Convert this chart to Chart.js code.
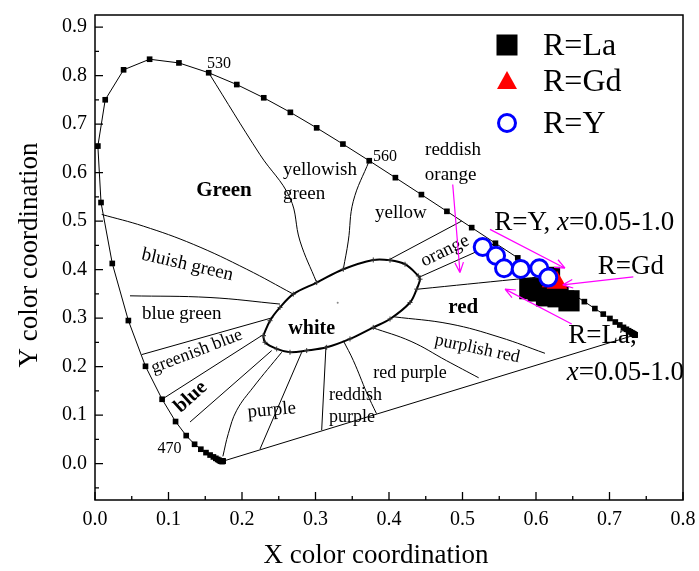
<!DOCTYPE html>
<html>
<head>
<meta charset="utf-8">
<script src="https://cdn.jsdelivr.net/npm/chart.js@4.4.1/dist/chart.umd.min.js"></script>
<style>
  body { margin: 0; background: #fff; }
  #cie { display: block; }
</style>
</head>
<body>
<canvas id="cie" width="699" height="571"></canvas>
<script>
// tick labels
const xTicks = [0.0, 0.1, 0.2, 0.3, 0.4, 0.5, 0.6, 0.7, 0.8];
const yTicks = [0.0, 0.1, 0.2, 0.3, 0.4, 0.5, 0.6, 0.7, 0.8, 0.9];

// CIE 1931 spectral locus, 380 - 700 nm in 5 nm steps
const locusNm = [380,385,390,395,400,405,410,415,420,425,430,435,440,445,450,455,460,465,470,475,
  480,485,490,495,500,505,510,515,520,525,530,535,540,545,550,555,560,565,570,575,
  580,585,590,595,600,605,610,615,620,625,630,635,640,645,650,655,660,665,670,675,
  680,685,690,695,700];
const locusX = [0.1741,0.1740,0.1738,0.1736,0.1733,0.1730,0.1726,0.1721,0.1714,0.1703,0.1689,0.1669,0.1644,0.1611,0.1566,0.1510,0.1440,0.1355,0.1241,0.1096,
  0.0913,0.0687,0.0454,0.0235,0.0082,0.0039,0.0139,0.0389,0.0743,0.1142,0.1547,0.1929,0.2296,0.2658,0.3016,0.3373,0.3731,0.4087,0.4441,0.4788,
  0.5125,0.5448,0.5752,0.6029,0.6270,0.6482,0.6658,0.6801,0.6915,0.7006,0.7079,0.7140,0.7190,0.7230,0.7260,0.7283,0.7300,0.7311,0.7320,0.7327,
  0.7334,0.7340,0.7344,0.7346,0.7347];
const locusY = [0.0050,0.0050,0.0049,0.0049,0.0048,0.0048,0.0048,0.0048,0.0051,0.0058,0.0069,0.0086,0.0109,0.0138,0.0177,0.0227,0.0297,0.0399,0.0578,0.0868,
  0.1327,0.2007,0.2950,0.4127,0.5384,0.6548,0.7502,0.8120,0.8338,0.8262,0.8059,0.7816,0.7543,0.7243,0.6923,0.6589,0.6245,0.5896,0.5547,0.5202,
  0.4866,0.4544,0.4242,0.3965,0.3725,0.3514,0.3340,0.3197,0.3083,0.2993,0.2920,0.2859,0.2809,0.2770,0.2740,0.2717,0.2700,0.2689,0.2680,0.2673,
  0.2666,0.2660,0.2656,0.2654,0.2653];

// measured colour coordinates, x = 0.05 - 1.0
const laX = [0.5916, 0.6030, 0.6143, 0.6184, 0.6300, 0.6449];
const laY = [0.3608, 0.3560, 0.3460, 0.3840, 0.3440, 0.3357];
const gdX = [0.6220, 0.6286];
const gdY = [0.3760, 0.3730];
const yX = [0.5275, 0.5456, 0.5565, 0.5792, 0.6045, 0.6167];
const yY = [0.4466, 0.4287, 0.4029, 0.4014, 0.4029, 0.3836];

// white region outline
const whiteX = [0.2290,0.2381,0.2517,0.2698,0.3016,0.3378,0.3786,0.4014,0.4218,0.4399,0.4422,0.4377,0.4286,0.4014,0.3786,0.3469,0.3152,0.2880,0.2653,0.2472,0.2313,0.2290];
const whiteY = [0.2639,0.2947,0.3220,0.3495,0.3733,0.4008,0.4199,0.4193,0.4111,0.3871,0.3803,0.3598,0.3322,0.2982,0.2809,0.2571,0.2398,0.2331,0.2296,0.2365,0.2501,0.2639];
const equalEnergy = [0.3302, 0.3316];

// colour region boundaries
const regionBorders = [
  [[0.1547,0.8059],[0.2245,0.6370],[0.2653,0.5478],[0.2789,0.4589],[0.3016,0.3733]],
  [[0.3731,0.6245],[0.3514,0.5410],[0.3446,0.4589],[0.3378,0.4008]],
  [[0.4989,0.5002],[0.4014,0.4214]],
  [[0.5448,0.4544],[0.4399,0.3836]],
  [[0.4399,0.3598],[0.5737,0.3803],[0.6130,0.3860]],
  [[0.4058,0.3029],[0.4830,0.2880],[0.5510,0.2604],[0.6122,0.2275]],
  [[0.3765,0.2809],[0.4300,0.2520],[0.4780,0.2125],[0.5220,0.1770]],
  [[0.3378,0.2536],[0.3515,0.2125],[0.3700,0.1450],[0.3830,0.1030]],
  [[0.3143,0.2433],[0.3084,0.0690]],
  [[0.2812,0.2296],[0.2245,0.0300]],
  [[0.2540,0.2296],[0.2154,0.1577],[0.1928,0.1099],[0.1814,0.0620],[0.1740,0.0150]],
  [[0.2404,0.2331],[0.1293,0.0858]],
  [[0.0913,0.1327],[0.2268,0.2639]],
  [[0.0635,0.2248],[0.2426,0.3014]],
  [[0.0476,0.3460],[0.1565,0.3425],[0.2517,0.3290]],
  [[0.0091,0.5138],[0.0657,0.4897],[0.1337,0.4522],[0.2064,0.4008],[0.2698,0.3495]]
];

// region names: text, x, y, rotation, size, bold
const regionLabels = [
  ['530', 0.1687, 0.8148, 0, 16, false],
  ['560', 0.3946, 0.6246, 0, 16, false],
  ['470', 0.1015, 0.0222, 0, 16, false],
  ['Green', 0.1755, 0.5528, 0, 21, true],
  ['yellowish', 0.3061, 0.5945, 0, 19, false],
  ['green', 0.2844, 0.5452, 0, 19, false],
  ['yellow', 0.4163, 0.5055, 0, 19, false],
  ['reddish', 0.4871, 0.6370, 0, 19, false],
  ['orange', 0.4839, 0.5856, 0, 19, false],
  ['orange', 0.4762, 0.4384, -26, 19, false],
  ['bluish green', 0.1256, 0.4097, 13, 19, false],
  ['blue green', 0.1180, 0.2982, 0, 19, false],
  ['greenish blue', 0.1384, 0.2310, -21, 18, false],
  ['blue', 0.1302, 0.1372, -42, 20, true],
  ['purple', 0.2404, 0.1099, -5, 19, false],
  ['white', 0.2948, 0.2674, 0, 20, true],
  ['red', 0.5011, 0.3097, 0, 21, true],
  ['purplish red', 0.5201, 0.2366, 12, 18, false],
  ['red purple', 0.4286, 0.1770, 0, 18, false],
  ['reddish', 0.3544, 0.1318, 0, 18, false],
  ['purple', 0.3497, 0.0858, 0, 18, false]
];

// callouts: pieces (italic flag), left x, baseline y
const callouts = [
  [[['R=Y, ', false], ['x', true], ['=0.05-1.0', false]], 0.5433, 0.4809],
  [[['R=Gd', false]], 0.6839, 0.3906],
  [[['R=La,', false]], 0.6440, 0.2489],
  [[['x', true], ['=0.05-1.0', false]], 0.6418, 0.1715]
];
const arrows = [
  [0.4867, 0.5754, 0.4966, 0.3938],
  [0.5374, 0.4830, 0.6395, 0.4029],
  [0.7324, 0.3850, 0.6363, 0.3686],
  [0.6486, 0.2879, 0.5578, 0.3598]
];

const SERIF = '"Liberation Serif", "Times New Roman", serif';
Chart.defaults.font.family = SERIF;

const pts = (xs, ys) => xs.map((v, i) => ({ x: v, y: ys[i] }));
const pairs = arr => arr.map(p => ({ x: p[0], y: p[1] }));
const first = locusNm.indexOf(380), last = locusNm.indexOf(700);

const datasets = [
  { label: 'R=Y', data: pts(yX, yY), pointStyle: 'circle', pointRadius: 8.5, pointBorderWidth: 3,
    pointBorderColor: '#0000ff', pointBackgroundColor: '#ffffff', showLine: false },
  { label: 'R=Gd', data: pts(gdX, gdY), pointStyle: 'triangle', pointRadius: 12, pointBorderWidth: 0,
    pointBackgroundColor: '#ff0000', showLine: false },
  { label: 'R=La', data: pts(laX, laY), pointStyle: 'rect', pointRadius: 15, pointBorderWidth: 0,
    pointBackgroundColor: '#000000', showLine: false },
  { label: 'locus', data: pts(locusX, locusY), showLine: true, borderColor: '#000', borderWidth: 1,
    pointStyle: 'rect', pointRadius: 4, pointBorderWidth: 0, pointBackgroundColor: '#000' },
  { label: 'purple line', data: [{ x: locusX[first], y: locusY[first] }, { x: locusX[last], y: locusY[last] }],
    showLine: true, borderColor: '#000', borderWidth: 1, pointRadius: 0 },
  { label: 'white', data: pts(whiteX, whiteY), showLine: true, borderColor: '#000', borderWidth: 2,
    tension: 0.35, pointStyle: 'cross', pointRadius: 2.5, pointBorderWidth: 1, pointBorderColor: '#333' },
  { label: 'E', data: [{ x: equalEnergy[0], y: equalEnergy[1] }], pointRadius: 1, pointBorderWidth: 0,
    pointBackgroundColor: '#888' }
];
regionBorders.forEach((b, i) => datasets.push({
  label: 'border' + i, data: pairs(b), showLine: true, borderColor: '#000', borderWidth: 1,
  tension: b.length > 2 ? 0.4 : 0, pointRadius: 0
}));

function richText(ctx, pieces, x0, y0, size) {
  let cx = x0;
  pieces.forEach(([t, it]) => {
    ctx.font = (it ? 'italic ' : '') + size + 'px ' + SERIF;
    ctx.fillText(t, cx, y0);
    cx += ctx.measureText(t).width;
  });
}

// keep the plot box where the original has it
function noPad(s) {
  s.paddingTop = 0; s.paddingBottom = 0; s.paddingLeft = 0; s.paddingRight = 0;
}

const decor = {
  id: 'decor',
  afterDatasetsDraw(chart) {
    const { ctx, chartArea: a, scales } = chart;
    const px = v => scales.x.getPixelForValue(v);
    const py = v => scales.y.getPixelForValue(v);
    ctx.save();
    ctx.fillStyle = '#000';

    // region names
    regionLabels.forEach(([t, x, y, rot, size, bold]) => {
      ctx.font = (bold ? 'bold ' : '') + size + 'px ' + SERIF;
      ctx.textAlign = 'center';
      if (rot) {
        ctx.save();
        ctx.translate(px(x), py(y));
        ctx.rotate(rot * Math.PI / 180);
        ctx.textBaseline = 'middle';
        ctx.fillText(t, 0, 0);
        ctx.restore();
      } else {
        ctx.textBaseline = 'alphabetic';
        ctx.fillText(t, px(x), py(y));
      }
    });

    // magenta arrows
    ctx.strokeStyle = '#ff00ff';
    ctx.lineWidth = 1.2;
    arrows.forEach(([x0, y0, x1, y1]) => {
      const ax = px(x0), ay = py(y0), bx = px(x1), by = py(y1);
      const ang = Math.atan2(by - ay, bx - ax);
      ctx.beginPath();
      ctx.moveTo(ax, ay);
      ctx.lineTo(bx, by);
      [-0.4, 0.4].forEach(d => {
        ctx.moveTo(bx, by);
        ctx.lineTo(bx - 11 * Math.cos(ang + d), by - 11 * Math.sin(ang + d));
      });
      ctx.stroke();
    });

    // callouts
    ctx.fillStyle = '#000';
    ctx.textAlign = 'left';
    ctx.textBaseline = 'alphabetic';
    callouts.forEach(([pieces, x, y]) => richText(ctx, pieces, px(x), py(y), 27));

    // legend
    const lx = a.left + 412, tx = a.left + 448;
    const rows = [a.top + 30, a.top + 66, a.top + 108];
    ctx.fillStyle = '#000';
    ctx.fillRect(lx - 10.5, rows[0] - 10.5, 21, 21);
    ctx.fillStyle = '#ff0000';
    ctx.beginPath();
    ctx.moveTo(lx, rows[1] - 10);
    ctx.lineTo(lx + 10, rows[1] + 8);
    ctx.lineTo(lx - 10, rows[1] + 8);
    ctx.closePath();
    ctx.fill();
    ctx.strokeStyle = '#0000ff';
    ctx.lineWidth = 3;
    ctx.beginPath();
    ctx.arc(lx, rows[2], 8.5, 0, Math.PI * 2);
    ctx.stroke();
    ctx.fillStyle = '#000';
    ctx.font = '32px ' + SERIF;
    ['R=La', 'R=Gd', 'R=Y'].forEach((t, i) => ctx.fillText(t, tx, rows[i] + 10));

    // frame with inward ticks
    ctx.strokeStyle = '#000';
    ctx.lineWidth = 1.5;
    ctx.strokeRect(a.left, a.top, a.right - a.left, a.bottom - a.top);
    ctx.lineWidth = 1.3;
    ctx.beginPath();
    xTicks.forEach((v, i) => {
      ctx.moveTo(px(v), a.bottom); ctx.lineTo(px(v), a.bottom - 8);
      if (i < xTicks.length - 1) {
        const m = px(v + 0.05);
        ctx.moveTo(m, a.bottom); ctx.lineTo(m, a.bottom - 4);
      }
    });
    yTicks.forEach((v, i) => {
      ctx.moveTo(a.left, py(v)); ctx.lineTo(a.left + 8, py(v));
      ctx.moveTo(a.left, py(v - 0.05)); ctx.lineTo(a.left + 4, py(v - 0.05));
    });
    ctx.stroke();

    // axis titles
    ctx.font = '27px ' + SERIF;
    ctx.textAlign = 'center';
    ctx.fillText('X color coordination', 376, 563);
    ctx.save();
    ctx.translate(37, 255);
    ctx.rotate(-Math.PI / 2);
    ctx.fillText('Y color coordination', 0, 0);
    ctx.restore();
    ctx.restore();
  }
};

new Chart(document.getElementById('cie'), {
  type: 'scatter',
  data: { datasets },
  options: {
    responsive: false,
    animation: false,
    layout: { padding: { top: 13, right: 16, left: 0, bottom: 0 } },
    plugins: { legend: { display: false }, tooltip: { enabled: false } },
    scales: {
      x: {
        type: 'linear', min: 0, max: 0.8,
        grid: { display: false, drawTicks: false }, border: { display: false },
        afterBuildTicks: s => { s.ticks = xTicks.map(v => ({ value: v })); },
        afterFit: s => { s.height = 71; noPad(s); },
        ticks: { padding: 8, color: '#000', autoSkip: false, maxRotation: 0,
          font: { size: 20 }, callback: v => v.toFixed(1) }
      },
      y: {
        type: 'linear', min: -0.075, max: 0.925,
        grid: { display: false, drawTicks: false }, border: { display: false },
        afterBuildTicks: s => { s.ticks = yTicks.map(v => ({ value: v })); },
        afterFit: s => { s.width = 95; noPad(s); },
        ticks: { padding: 8, color: '#000', autoSkip: false,
          font: { size: 20 }, callback: v => v.toFixed(1) }
      }
    }
  },
  plugins: [decor]
});
</script>
</body>
</html>
